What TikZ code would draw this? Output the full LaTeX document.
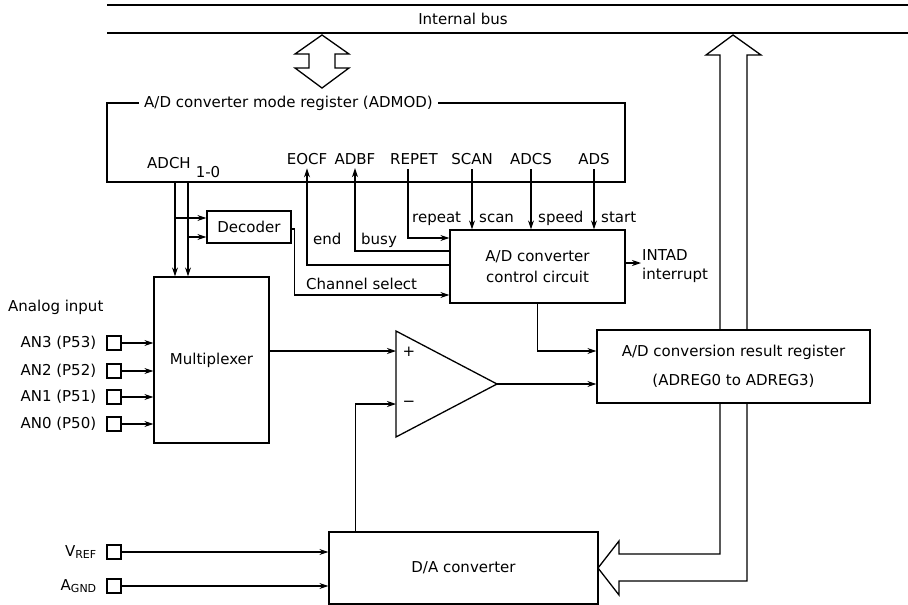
\documentclass[tikz,border=0pt]{standalone}
\usepackage{fontspec}
\setmainfont{DejaVu Sans}
\usetikzlibrary{arrows.meta,positioning}
\newcommand{\dfont}{\fontsize{15}{18}\selectfont}
\newcommand{\subfont}{\fontsize{11}{12}\selectfont}
\begin{document}
\begin{tikzpicture}[x=1pt, y=-1pt, font=\dfont,
    block/.style={rectangle, draw, line width=1.3pt, fill=white, inner sep=0pt, align=center},
    pad/.style={rectangle, draw, line width=1.2pt, minimum size=14pt, inner sep=0pt},
    lbl/.style={inner sep=1pt},
    arr/.style={-{Stealth[length=9pt,width=6pt]}, line width=1.1pt},
    wide/.style={draw, line width=1.3pt, fill=white, line join=miter}]
    \useasboundingbox (0,0) rectangle (908,605);

    % internal bus
    \draw [line width=1.3pt] (107,5) -- (908,5);
    \draw [line width=1.3pt] (107,33) -- (908,33);
    \node [lbl] (bus) at (463,19) {Internal bus};
    \draw [wide] (322,35) -- (349,54) -- (335,54) -- (335,68) -- (349,68) -- (322,88)
        -- (295,68) -- (309,68) -- (309,54) -- (295,54) -- cycle;
    \draw [wide] (733,35) -- (761,55) -- (747,55) -- (747,581) -- (619,581) -- (619,595)
        -- (598,568) -- (619,541) -- (619,554) -- (720,554) -- (720,55) -- (706,55) -- cycle;

    % mode register
    \node [block, minimum width=518pt, minimum height=79pt] (admod) at (366,142.5) {};
    \node [lbl, fill=white, inner xsep=5pt, anchor=west] (admodt) at (139,103) {A/D converter mode register (ADMOD)};
    \node [lbl, anchor=base west] (adch) at (146,168) {ADCH\kern5pt\raisebox{-9pt}{1-0}};
    \node [lbl, anchor=base] (eocf) at (307,164) {EOCF};
    \node [lbl, anchor=base] (adbf) at (355,164) {ADBF};
    \node [lbl, anchor=base] (repet) at (414,164) {REPET};
    \node [lbl, anchor=base] (scan) at (472,164) {SCAN};
    \node [lbl, anchor=base] (adcs) at (531,164) {ADCS};
    \node [lbl, anchor=base] (ads) at (594,164) {ADS};

    % blocks
    \node [block, minimum width=84pt, minimum height=32pt] (decoder) at (249,227) {Decoder};
    \node [block, minimum width=115pt, minimum height=166pt] (mux) at (211.5,360) {Multiplexer};
    \node [block, minimum width=175pt, minimum height=73pt] (ctrl) at (537.5,266.5) {A/D converter\\[3pt]control circuit};
    \node [block, minimum width=273pt, minimum height=73pt] (result) at (733.5,366.5) {A/D conversion result register\\[11pt](ADREG0 to ADREG3)};
    \node [block, minimum width=269pt, minimum height=72pt] (dac) at (463.5,568) {D/A converter};

    % comparator
    \coordinate (cmpp) at (396,351);
    \coordinate (cmpm) at (396,404);
    \coordinate (cmpo) at (497,384);
    \draw [line width=1.3pt] (396,331) -- (cmpo) -- (396,437) -- cycle;
    \node [lbl] (plus) at (409,352) {+};
    \node [lbl] (minus) at (409,404) {−};

    % channel bits
    \coordinate (ch1) at (175,182);
    \coordinate (ch0) at (188,182);
    \draw [arr] (ch1) -- (ch1 |- mux.north);
    \draw [arr] (ch0) -- (ch0 |- mux.north);
    \draw [arr] (ch1 |- 0,218) -- (decoder.west |- 0,218);
    \draw [arr] (ch0 |- 0,237) -- (decoder.west |- 0,237);
    \draw [arr] (decoder.east |- 0,229) -- ++(3,0) |- (ctrl.west |- 0,295);
    \node [lbl, anchor=base west] (chsel) at (305,289) {Channel select};

    % control signals
    \draw [arr] (ctrl.west |- 0,265) -| ([yshift=-3pt]eocf.south);
    \draw [arr] (ctrl.west |- 0,251) -| ([yshift=-3pt]adbf.south);
    \draw [arr] ([xshift=-6pt,yshift=-4pt]repet.south) |- (ctrl.west |- 0,238);
    \draw [arr] ([yshift=-4pt]scan.south) -- (scan |- ctrl.north);
    \draw [arr] ([yshift=-4pt]adcs.south) -- (adcs |- ctrl.north);
    \draw [arr] ([yshift=-4pt]ads.south) -- (ads |- ctrl.north);
    \node [lbl, anchor=base west] (lend) at (312,244) {end};
    \node [lbl, anchor=base west] (lbusy) at (360,244) {busy};
    \node [lbl, anchor=base west] (lrepeat) at (411,222) {repeat};
    \node [lbl, anchor=base west] (lscan) at (478,222) {scan};
    \node [lbl, anchor=base west] (lspeed) at (537,222) {speed};
    \node [lbl, anchor=base west] (lstart) at (600,222) {start};
    \node [lbl, anchor=west, align=left] (intad) at (641,266) {INTAD\\[1pt]interrupt};
    \draw [arr] (ctrl.east |- 0,263) -- (intad.west |- 0,263);

    % analog inputs
    \node [lbl, anchor=west] (anin) at (7,307) {Analog input};
    \foreach \n/\y in {3/343, 2/371, 1/397, 0/424} {
        \node [pad] (an\n) at (114,\y) {};
        \node [lbl, left=9pt of an\n] (lan\n) {AN\n\ (P5\n)};
        \draw [arr] (an\n.east) -- (an\n -| mux.west);
    }

    % comparator paths
    \draw [arr] (mux.east |- cmpp) -- (cmpp);
    \draw [arr] (ctrl.south) |- (cmpp -| result.west);
    \draw [arr] (cmpo) -- (cmpo -| result.west);
    \draw [arr] ([xshift=27pt]dac.north west) |- (cmpm);

    % reference inputs
    \node [pad] (vref) at (114,552) {};
    \node [pad] (agnd) at (114,586) {};
    \node [lbl, left=9pt of vref] (lvref) {V\raisebox{-2pt}{\subfont REF}};
    \node [lbl, left=9pt of agnd] (lagnd) {A\raisebox{-2pt}{\subfont GND}};
    \draw [arr] (vref.east) -- (vref -| dac.west);
    \draw [arr] (agnd.east) -- (agnd -| dac.west);
\end{tikzpicture}
\end{document}
